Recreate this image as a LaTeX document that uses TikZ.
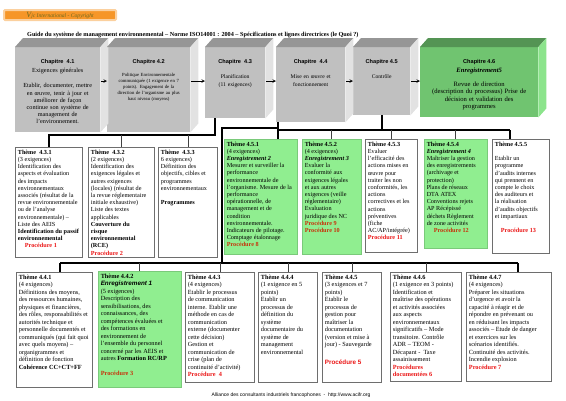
\documentclass[tikz,border=0pt]{standalone}
\usepackage{fontspec}
\setmainfont{Liberation Serif}
\setsansfont{Liberation Sans}
\usetikzlibrary{positioning}

\definecolor{chapgray}{RGB}{192,192,192}
\definecolor{chaptop}{RGB}{150,150,150}
\definecolor{chapside}{RGB}{226,226,226}
\definecolor{greenfront}{RGB}{112,196,112}
\definecolor{greentop}{RGB}{84,148,84}
\definecolor{greenside}{RGB}{140,228,140}
\definecolor{themegreen}{RGB}{144,238,144}
\definecolor{boxgray}{RGB}{110,110,110}
\definecolor{procred}{RGB}{235,20,20}
\definecolor{procdark}{RGB}{200,50,10}
\definecolor{bannerorange}{RGB}{246,150,40}
\definecolor{logotext}{RGB}{110,105,30}

\begin{document}
\begin{tikzpicture}[x=1pt,y=-1pt,
    chapfront/.style={fill=chapgray, anchor=north west, inner sep=0pt},
    chaphead/.style={font=\sffamily\bfseries\fontsize{5.6}{6.5}\selectfont, inner sep=0pt},
    chaptext/.style={font=\fontsize{6.2}{7.2}\selectfont, align=center, inner sep=0pt},
    themebox/.style={draw=boxgray, line width=0.8pt, fill=white, anchor=north west, inner sep=2.5pt,
      font=\fontsize{6.2}{7.2}\selectfont},
    greenbox/.style={themebox, fill=themegreen, draw=themegreen!85!black, line width=0.5pt},
    lowrow/.style={font=\fontsize{6.3}{7.5}\selectfont},
    trunk/.style={line width=1.6pt},
    branch/.style={line width=0.6pt, draw=black!75},
    chaparrow/.style={->, >=stealth, line width=0.6pt, shorten <=1pt},
    banner/.style={fill=bannerorange, draw=bannerorange!45, line width=2pt, rounded corners=1pt,
      minimum width=112, minimum height=10, inner sep=0pt}]
  \useasboundingbox (0,0) rectangle (566,400);

  \node[banner] (logo) at (60,15) {\color{logotext}\itshape\fontsize{5.6}{6}\selectfont
    {\fontsize{8}{8}\selectfont V}jc International - Copyright};
  \node[anchor=west, inner sep=0pt, font=\bfseries\fontsize{6.2}{7}\selectfont] (titre) at (27,35)
    {Guide du système de management environnemental – Norme ISO14001 : 2004 – Spécifications et lignes directrices (le Quoi ?)};

  \node[chapfront, minimum width=85, minimum height=85] (c41) at (15,47) {};
  \node[chapfront, minimum width=83, minimum height=85] (c42) at (107,47) {};
  \node[chapfront, minimum width=60, minimum height=71] (c43) at (205,47) {};
  \node[chapfront, minimum width=69, minimum height=75] (c44) at (276,47) {};
  \node[chapfront, minimum width=57, minimum height=68] (c45) at (353,47) {};
  \node[chapfront, fill=greenfront, minimum width=118, minimum height=70] (c46) at (420,47) {};

  \foreach \c/\ct/\cs in {c41/chaptop/chapside, c42/chaptop/chapside, c43/chaptop/chapside,
      c44/chaptop/chapside, c45/chaptop/chapside, c46/greentop/greenside} {
    \fill[\ct] (\c.north west) -- ++(8,-9) -- ([shift={(8,-9)}]\c.north east) -- (\c.north east) -- cycle;
    \fill[\cs] (\c.north east) -- ++(8,-9) -- ([shift={(8,-9)}]\c.south east) -- (\c.south east) -- cycle;
  }

  \node[chaphead, below=12pt of c41.north] (h41) {Chapitre\ \ 4.1};
  \node[chaptext, text width=82pt, below=3pt of h41] (b41) {Exigences générales\\[8.5pt]
    Etablir, documenter, mettre\\ en œuvre, tenir à jour et\\ améliorer de façon\\
    continue son système de\\ management de\\ l'environnement.};
  \node[chaphead, below=12pt of c42.north] (h42) {Chapitre 4.2};
  \node[chaptext, font=\fontsize{4.7}{6.1}\selectfont, text width=80pt, below=8pt of h42] (b42)
    {Politique Environnementale\\ communiquée (1 exigence en 7\\ points). Engagement de la\\
    direction de l'organisme au plus\\ haut niveau (moyens)};
  \node[chaphead, below=12pt of c43.north] (h43) {Chapitre\ \ 4.3};
  \node[chaptext, font=\fontsize{5.6}{7.6}\selectfont, text width=58pt, below=10pt of h43] (b43)
    {Planification\\ (11 exigences)};
  \node[chaphead, below=12pt of c44.north] (h44) {Chapitre\ \ 4.4};
  \node[chaptext, font=\fontsize{5.6}{7.6}\selectfont, text width=66pt, below=10pt of h44] (b44)
    {Mise en œuvre et\\ fonctionnement};
  \node[chaphead, below=12pt of c45.north] (h45) {Chapitre 4.5};
  \node[chaptext, font=\fontsize{5.6}{7.6}\selectfont, text width=55pt, below=10pt of h45] (b45)
    {Contrôle};
  \node[chaphead, below=12pt of c46.north] (h46) {Chapitre 4.6};
  \node[chaptext, font=\fontsize{6.6}{7.2}\selectfont, text width=116pt, below=3pt of h46] (b46)
    {\textbf{\textit{Enregistrement5}}\\[7pt] Revue de direction\\
    (description du processus) Prise de\\ décision et validation des\\ programmes};

  \coordinate (arr) at (0,81);
  \draw[chaparrow] (c41.east |- arr) -- (c42.west |- arr);
  \draw[chaparrow] (c42.east |- arr) -- (c43.west |- arr);
  \draw[chaparrow] (c43.east |- arr) -- (c44.west |- arr);
  \draw[chaparrow] (c44.east |- arr) -- (c45.west |- arr);
  \draw[chaparrow] (c45.east |- arr) -- (c46.west |- arr);

  \node[themebox] (t431) at (15,147) {\parbox[t][105pt][t]{62pt}{\raggedright
    \textbf{Thème\ \ 4.3.1}\\ (3 exigences)\\ Identification des\\ aspects et évaluation\\
    des impacts\\ environnementaux\\ associés (résultat de la\\ revue environnementale\\
    ou de l'analyse\\ environnementale) –\\ Liste des AEIS\\
    \textbf{Identification du passif}\\ \textbf{environnemental}\\
    \hspace*{7pt}\textcolor{procred}{\textbf{Procédure 1}}}};
  \node[themebox] (t432) at (88,147) {\parbox[t][105pt][t]{61pt}{\raggedright
    \textbf{Thème\ \ 4.3.2}\\ (2 exigences)\\ Identification des\\ exigences légales et\\
    autres exigences\\ (locales) (résultat de\\ la revue réglementaire\\ initiale exhaustive)\\
    Liste des textes\\ applicables\\ \textbf{Couverture du}\\ \textbf{risque}\\
    \textbf{environnemental}\\ \textbf{(RCE)}\\ \textcolor{procred}{\textbf{Procédure 2}}}};
  \node[themebox] (t433) at (158,147) {\parbox[t][105pt][t]{54pt}{\raggedright
    \textbf{Thème\ \ 4.3.3}\\ 6 exigences)\\ Définition des\\ objectifs, cibles et\\ programmes\\
    environnementaux\\[7.2pt] \textbf{Programmes}}};

  \node[greenbox] (t451) at (224,139) {\parbox[t][110pt][t]{68pt}{\raggedright
    \textbf{Thème 4.5.1}\\ (4 exigences)\\ \textbf{\textit{Enregistrement 2}}\\
    Mesurer et surveiller la\\ performance\\ environnementale de\\ l'organisme. Mesure de la\\
    performance\\ opérationnelle, de\\ management et de\\ condition\\ environnementale.\\
    Indicateurs de pilotage.\\ Comptage étalonnage\\ \textcolor{procdark}{\textbf{Procédure 8}}}};
  \node[greenbox] (t452) at (302,139) {\parbox[t][110pt][t]{54pt}{\raggedright
    \textbf{Thème 4.5.2}\\ (4 exigences)\\ \textbf{\textit{Enregistrement 3}}\\ Evaluer la\\
    conformité aux\\ exigences légales\\ et aux autres\\ exigences (veille\\ réglementaire)\\
    Evaluation\\ juridique des NC\\ \textcolor{procdark}{\textbf{Procédure 9}}\\
    \textcolor{procdark}{\textbf{Procédure 10}}}};
  \node[themebox] (t453) at (365,139) {\parbox[t][108pt][t]{47pt}{\raggedright
    \textbf{Thème 4.5.3}\\ Evaluer\\ l'efficacité des\\ actions mises en\\ œuvre pour\\
    traiter les non\\ conformités, les\\ actions\\ correctives et les\\ actions\\ préventives\\
    (fiche\\ AC/AP/intégrée)\\ \textcolor{procred}{\textbf{Procédure 11}}}};
  \node[greenbox] (t454) at (424,139) {\parbox[t][104pt][t]{58pt}{\raggedright
    \textbf{Thème 4.5.4}\\ \textbf{\textit{Enregistrement 4}}\\ Maîtriser la gestion\\
    des enregistrements\\ (archivage et\\ protection)\\ Plans de réseaux\\ DTA ATEX\\
    Conventions rejets\\ AP Récépissé\\ déchets Règlement\\ de zone activités\\
    \hspace*{7pt}\textcolor{procdark}{\textbf{Procédure 12}}}};
  \node[themebox] (t455) at (492,139) {\parbox[t][109pt][t]{52pt}{\raggedright
    \textbf{Thème 4.5.5}\\[7.2pt] Etablir un\\ programme\\ d'audits internes\\ qui prennent en\\
    compte le choix\\ des auditeurs et\\ la réalisation\\ d'audits objectifs\\ et impartiaux\\[7.2pt]
    \hspace*{6pt}\textcolor{procred}{\textbf{Procédure 13}}}};

  \node[themebox, lowrow] (t441) at (16,272) {\parbox[t][110pt][t]{71pt}{\raggedright
    \textbf{Thème 4.4.1}\\ (4 exigences)\\ Définitions des moyens,\\ des ressources humaines,\\
    physiques et financières,\\ des rôles, responsabilités et\\ autorités technique et\\
    personnelle documentés et\\ communiqués (qui fait quoi\\ avec quels moyens) –\\
    organigrammes et\\ définition de fonction\\ \textbf{Cohérence CC+CT+FF}}};
  \node[greenbox, lowrow] (t442) at (98,271) {\parbox[t][111pt][t]{78pt}{\raggedright
    \textbf{Thème 4.4.2}\\ {\sffamily\bfseries\itshape Enregistrement 1}\\ (5 exigences)\\
    Description des\\ sensibilisations, des\\ connaissances, des\\ compétences évaluées et\\
    des formations en\\ environnement de\\ l'ensemble du personnel\\ concerné par les AEIS et\\
    autres \textbf{Formation RC/RP}\\[7.5pt] \textcolor{procdark}{\textbf{Procédure 3}}}};
  \node[themebox, lowrow] (t443) at (185,272) {\parbox[t][105pt][t]{64pt}{\raggedright
    \textbf{Thème 4.4.3}\\ (4 exigences)\\ Etablir le processus\\ de communication\\
    interne. Etablir une\\ méthode en cas de\\ communication\\ externe (documenter\\
    cette décision)\\ Gestion et\\ communication de\\ crise (plan de\\ continuité d'activité)\\
    \textcolor{procred}{\textbf{Procédure\ \ 4}}}};
  \node[themebox, lowrow] (t444) at (258,272) {\parbox[t][105pt][t]{54pt}{\raggedright
    \textbf{Thème 4.4.4}\\ (1 exigence en 5\\ points)\\ Etablir un\\ processus de\\
    définition du\\ système\\ documentaire du\\ système de\\ management\\ environnemental}};
  \node[themebox, lowrow] (t445) at (322,272) {\parbox[t][105pt][t]{54pt}{\raggedright
    \textbf{Thème 4.4.5}\\ (3 exigences et 7\\ points)\\ Etablir le\\ processus de\\
    gestion pour\\ maîtriser la\\ documentation\\ (version et mise à\\ jour) - Sauvegarde\\[10pt]
    \textcolor{procred}{\sffamily\bfseries Procédure 5}}};
  \node[themebox, lowrow] (t446) at (390,272) {\parbox[t][104pt][t]{66pt}{\raggedright
    \textbf{Thème 4.4.6}\\ (1 exigence en 3 points)\\ Identification et\\ maîtrise des opérations\\
    et activités associées\\ aux aspects\\ environnementaux\\ significatifs – Mode\\
    transitoire. Contrôle\\ ADR – TEOM -\\ Décapant -\ \ Taxe\\ assainissement\\
    \textcolor{procred}{\textbf{Procédures}}\\ \textcolor{procred}{\textbf{documentées 6}}}};
  \node[themebox, lowrow] (t447) at (466,272) {\parbox[t][104pt][t]{80pt}{\raggedright
    \textbf{Thème 4.4.7}\\ (4 exigences)\\ Préparer les situations\\ d'urgence et avoir la\\
    capacité à réagir et de\\ répondre en prévenant ou\\ en réduisant les impacts\\
    associés – Etude de danger\\ et exercices sur les\\ scénarios identifiés.\\
    Continuité des activités.\\ Incendie explosion\\ \textcolor{procred}{\textbf{Procédure 7}}}};

  \coordinate (bus43) at (215,135);
  \draw[trunk] ([xshift=10]c43.south west) -- (bus43) -| (t431.north);
  \foreach \t in {t432,t433} \draw[branch] (\t.north) -- (\t.north |- bus43);

  \coordinate (k44) at (222,128);
  \coordinate (bus44w) at (60,263);
  \coordinate (bus44e) at (518,263);
  \draw[trunk] ([xshift=2]c44.south west) |- (k44) -- (k44 |- bus44w);
  \draw[trunk] (bus44w) -- (bus44e);
  \draw[trunk] (bus44w) -- (bus44w |- t441.north);
  \draw[trunk] (bus44e) -- (bus44e |- t447.north);
  \foreach \t in {t442,t443,t444,t445,t446} \draw[branch] (\t.north) -- (\t.north |- bus44w);

  \coordinate (bus45w) at (278,130);
  \coordinate (bus45e) at (510,130);
  \draw[trunk] (c45.south) -- (c45.south |- bus45w);
  \draw[trunk] ([xshift=2]c44.south west) -- (bus45w) -- (bus45e);
  \draw[trunk] (bus45w) -- (bus45w |- t451.north);
  \draw[trunk] (bus45e) -- (bus45e |- t455.north);
  \foreach \t in {t452,t453,t454} \draw[branch] (\t.north) -- (\t.north |- bus45w);

  \node[font=\sffamily\fontsize{5}{6}\selectfont, inner sep=0pt] (pied) at (291,395)
    {Alliance des consultants industriels francophones\ \ -\ \ http://www.acifr.org};
\end{tikzpicture}
\end{document}
